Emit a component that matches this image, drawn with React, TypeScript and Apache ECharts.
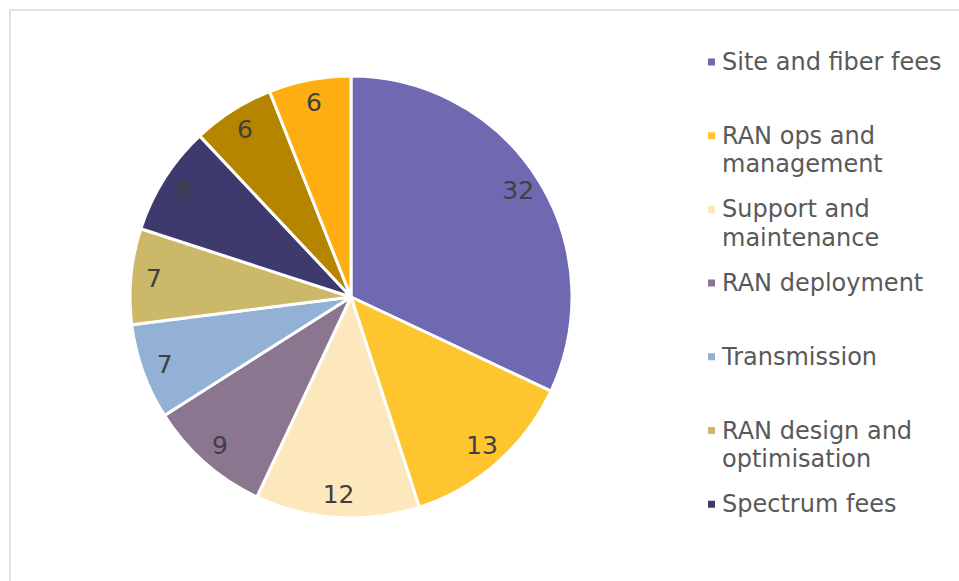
import React, { useEffect, useRef } from "react";
import * as echarts from "echarts";

const categories = [
  "Site and fiber fees",
  "RAN ops and management",
  "Support and maintenance",
  "RAN deployment",
  "Transmission",
  "RAN design and optimisation",
  "Spectrum fees",
  "Other costs (a)",
  "Other costs (b)",
];
const legendLabels = [
  "Site and fiber fees",
  "RAN ops and\nmanagement",
  "Support and\nmaintenance",
  "RAN deployment",
  "Transmission",
  "RAN design and\noptimisation",
  "Spectrum fees",
];
const values = [32, 13, 12, 9, 7, 7, 8, 6, 6];
const colors = [
  "#6e69b0",
  "#fec52f",
  "#fde8bd",
  "#8b7690",
  "#92b1d4",
  "#cbb868",
  "#3e3a6d",
  "#b68500",
  "#feae11",
];

export default function App() {
  const ref = useRef<HTMLDivElement>(null);
  useEffect(() => {
    document.body.style.margin = "0";
    const chart = echarts.init(ref.current!, undefined, { renderer: "svg" });
    const data = categories.map((name, i) => ({
      name,
      value: values[i],
      itemStyle: { color: colors[i] },
    }));
    const L = 28.5;
    chart.setOption({
      animation: false,
      color: colors,
      graphic: [
        {
          type: "rect",
          shape: { x: 10, y: 10, width: 1200, height: 1200 },
          style: { fill: "none", stroke: "#d9d9d9", lineWidth: 1.5 },
          silent: true,
        },
      ],
      legend: {
        orient: "vertical",
        left: 706,
        top: 61 - 1.5 * L + 1,
        padding: 0,
        itemGap: 73.7 - 3 * L,
        itemWidth: 9,
        itemHeight: 9,
        icon: "rect",
        selectedMode: false,
        data: categories.slice(0, legendLabels.length),
        formatter: (name: string) => {
          const t = legendLabels[categories.indexOf(name)];
          return "\n" + t + (t.indexOf("\n") >= 0 ? "" : "\n");
        },
        textStyle: {
          fontFamily: "DejaVu Sans",
          fontSize: 24,
          lineHeight: L,
          color: "#595959",
          padding: [0, 0, 0, 1],
        },
      },
      series: [
        {
          type: "pie",
          center: [351, 297],
          radius: [0, 221],
          startAngle: 90,
          clockwise: true,
          silent: true,
          label: { show: false },
          labelLine: { show: false },
          itemStyle: { borderColor: "#ffffff", borderWidth: 3 },
          data,
        },
        {
          type: "pie",
          center: [351, 297],
          radius: [170, 220],
          startAngle: 90,
          clockwise: true,
          silent: true,
          itemStyle: { color: "rgba(0,0,0,0)", borderWidth: 0 },
          label: {
            show: true,
            position: "inside",
            formatter: "{c}",
            fontFamily: "DejaVu Sans",
            fontSize: 25,
            color: "#404040",
          },
          labelLine: { show: false },
          data: categories.map((name, i) => ({ name, value: values[i] })),
        },
      ],
    });
    return () => chart.dispose();
  }, []);
  return <div ref={ref} style={{ width: 959, height: 581 }} />;
}
